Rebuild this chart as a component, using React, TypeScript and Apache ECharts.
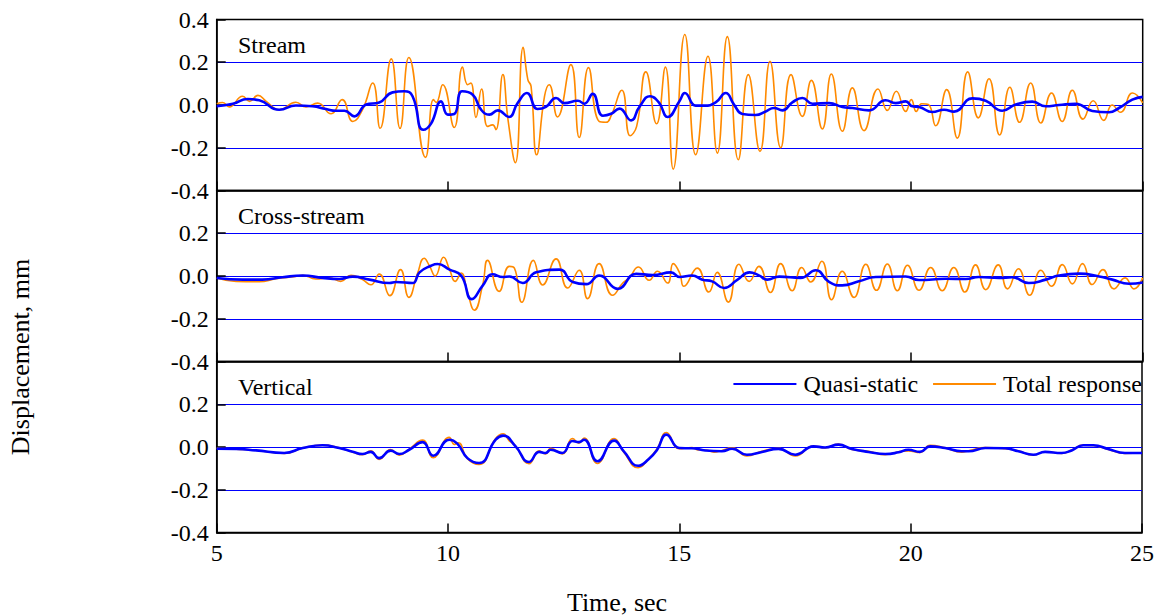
import React, { useEffect, useRef } from "react";
import * as echarts from "echarts";

// ---- Data (time in s, displacement in mm) ----
const xTicks = [5, 10, 15, 20, 25];
const yTicks = [-0.4, -0.2, 0.0, 0.2, 0.4];
const panelTitles = ["Stream", "Cross-stream", "Vertical"];
const legendNames = ["Quasi-static", "Total response"];

const streamTotal: [number, number][] = [
  [5.0, 0.006], [5.13, 0.012], [5.27, -0.009], [5.56, 0.041], [5.71, 0.017], [5.89, 0.045], [6.07, 0.017],
  [6.35, -0.022], [6.71, 0.013], [6.93, -0.009], [7.18, 0.009], [7.47, -0.041], [7.71, 0.025], [7.94, -0.077],
  [8.15, -0.022], [8.37, 0.103], [8.53, -0.109], [8.77, 0.216], [8.96, -0.109], [9.15, 0.222], [9.51, -0.245],
  [9.68, 0.025], [9.74, 0.012], [9.88, 0.095], [10.13, -0.105], [10.31, 0.178], [10.42, 0.095], [10.49, 0.103],
  [10.6, -0.058], [10.72, 0.075], [10.85, -0.1], [10.96, -0.093], [11.03, -0.115], [11.18, 0.142], [11.29, -0.066],
  [11.45, -0.27], [11.62, 0.27], [11.72, 0.119], [11.79, 0.087], [11.91, -0.233], [12.08, 0.04], [12.18, 0.095],
  [12.36, -0.056], [12.65, 0.189], [12.83, -0.152], [13.03, 0.175], [13.26, -0.077], [13.41, -0.081],
  [13.52, -0.05], [13.75, 0.069], [13.93, -0.144], [14.07, -0.1], [14.27, 0.155], [14.5, -0.088], [14.69, 0.177],
  [14.86, -0.3], [15.11, 0.33], [15.345, -0.233], [15.611, 0.228], [15.813, -0.225], [16.029, 0.32],
  [16.266, -0.256], [16.482, 0.142], [16.734, -0.217], [16.95, 0.205], [17.181, -0.2], [17.404, 0.142],
  [17.649, -0.053], [17.843, 0.115], [18.081, -0.112], [18.275, 0.145], [18.513, -0.123], [18.729, 0.08],
  [18.981, -0.12], [19.283, 0.075], [19.485, -0.025], [19.679, 0.064], [19.881, -0.03], [20.003, 0.025],
  [20.11, -0.03], [20.226, 0.006], [20.37, 0.002], [20.528, -0.097], [20.766, 0.072], [20.996, -0.155],
  [21.22, 0.155], [21.45, -0.06], [21.68, 0.123], [21.91, -0.14], [22.13, 0.083], [22.34, -0.081], [22.58, 0.103],
  [22.8, -0.084], [23.03, 0.056], [23.26, -0.077], [23.48, 0.069], [23.71, -0.066], [23.93, 0.02], [24.16, -0.072],
  [24.34, 0.0], [24.52, -0.034], [24.78, 0.056], [25.0, 0.01],
];

const streamQuasi: [number, number][] = [
  [5.0, -0.006], [5.35, 0.006], [5.67, 0.028], [5.92, 0.022], [6.35, -0.022], [6.71, -0.002], [7.07, -0.006],
  [7.36, -0.019], [7.58, -0.027], [7.76, -0.027], [7.97, -0.053], [8.23, 0.002], [8.51, 0.012], [8.8, 0.059],
  [9.05, 0.064], [9.23, 0.041], [9.46, -0.116], [9.63, -0.087], [9.845, 0.017], [9.99, -0.045], [10.13, -0.042],
  [10.3, 0.064], [10.53, 0.048], [10.71, -0.022], [10.89, -0.045], [11.07, -0.025], [11.31, -0.056], [11.5, 0.009],
  [11.7, 0.056], [11.93, -0.019], [12.11, -0.009], [12.33, 0.033], [12.51, 0.009], [12.8, 0.02], [12.94, 0.006],
  [13.12, 0.052], [13.34, -0.05], [13.52, -0.041], [13.7, -0.017], [13.95, -0.072], [14.13, -0.009],
  [14.36, 0.041], [14.55, 0.012], [14.74, -0.056], [15.0, 0.02], [15.11, 0.056], [15.345, -0.003],
  [15.525, -0.003], [15.777, 0.012], [15.993, 0.056], [16.173, 0.002], [16.353, -0.042], [16.641, -0.047],
  [16.857, -0.03], [17.037, -0.014], [17.217, -0.025], [17.433, 0.012], [17.649, 0.033], [17.865, 0.006],
  [18.225, 0.009], [18.513, -0.009], [18.729, -0.014], [19.089, -0.025], [19.449, 0.022], [19.665, 0.009],
  [19.881, 0.017], [20.025, -0.006], [20.169, -0.009], [20.457, -0.033], [20.709, -0.022], [20.925, -0.031],
  [21.321, 0.031], [21.609, 0.02], [21.968, -0.027], [22.256, 0.002], [22.616, 0.016], [22.904, -0.006],
  [23.192, 0.0], [23.552, 0.006], [23.912, -0.028], [24.272, -0.034], [24.488, -0.014], [24.776, 0.025],
  [25.0, 0.038],
];

const crossTotal: [number, number][] = [
  [5.0, -0.009], [5.42, -0.025], [5.92, -0.027], [6.28, -0.013], [6.71, -0.002], [6.86, 0.003], [7.14, -0.014],
  [7.43, -0.009], [7.68, -0.025], [7.9, 0.003], [8.15, -0.017], [8.33, -0.041], [8.51, 0.009], [8.74, -0.092],
  [8.97, 0.03], [9.15, -0.1], [9.34, 0.014], [9.48, 0.083], [9.59, 0.05], [9.72, 0.0], [9.9, 0.088], [10.03, 0.03],
  [10.15, -0.025], [10.28, 0.014], [10.42, -0.08], [10.565, -0.16], [10.745, -0.041], [10.85, 0.073],
  [11.1, -0.072], [11.32, 0.045], [11.43, 0.037], [11.59, -0.123], [11.84, 0.073], [12.04, -0.042], [12.33, 0.08],
  [12.58, -0.056], [12.83, 0.027], [13.01, -0.106], [13.26, 0.058], [13.55, -0.09], [13.77, -0.033],
  [13.91, -0.009], [14.11, 0.042], [14.34, -0.02], [14.52, 0.022], [14.74, -0.033], [14.86, 0.058], [15.0, 0.014],
  [15.09, -0.048], [15.38, 0.037], [15.63, -0.075], [15.81, 0.017], [16.05, -0.122], [16.28, 0.055],
  [16.5, -0.025], [16.71, 0.045], [16.96, -0.077], [17.18, 0.058], [17.43, -0.069], [17.635, 0.04],
  [17.83, -0.028], [18.07, 0.069], [18.28, -0.111], [18.51, 0.022], [18.765, -0.1], [19.02, 0.055],
  [19.25, -0.067], [19.485, 0.056], [19.7, -0.069], [19.92, 0.05], [20.17, -0.067], [20.42, 0.04],
  [20.67, -0.069], [20.92, 0.04], [21.16, -0.075], [21.39, 0.052], [21.61, -0.064], [21.88, 0.052],
  [22.08, -0.06], [22.315, 0.034], [22.56, -0.09], [22.8, 0.027], [23.03, -0.048], [23.265, 0.053],
  [23.48, -0.037], [23.7, 0.058], [23.91, -0.04], [24.14, 0.03], [24.38, -0.06], [24.62, -0.009],
  [24.81, -0.06], [25.0, -0.009],
];

const crossQuasi: [number, number][] = [
  [5.0, -0.009], [5.56, -0.017], [5.99, -0.017], [6.42, -0.006], [6.86, 0.002], [7.29, -0.009], [7.65, -0.014],
  [7.94, -0.003], [8.3, -0.017], [8.73, -0.033], [8.87, -0.028], [9.23, -0.033], [9.38, 0.017], [9.63, 0.048],
  [9.77, 0.056], [10.03, 0.03], [10.28, 0.002], [10.51, -0.108], [10.745, -0.045], [10.96, 0.008],
  [11.18, -0.005], [11.32, -0.002], [11.61, -0.033], [11.9, 0.017], [12.4, 0.03], [12.69, -0.028],
  [12.98, -0.038], [13.26, 0.002], [13.66, -0.06], [14.06, 0.01], [14.42, 0.005], [14.81, 0.017], [15.0, -0.005],
  [15.27, 0.002], [15.49, -0.017], [15.7, -0.025], [15.96, -0.056], [16.25, -0.017], [16.51, 0.017],
  [16.71, 0.003], [16.89, -0.017], [17.15, -0.003], [17.61, -0.009], [17.94, 0.027], [18.225, -0.028],
  [18.51, -0.044], [18.87, -0.025], [19.23, -0.005], [19.88, -0.002], [20.17, -0.019], [20.745, -0.013],
  [21.18, -0.014], [21.46, -0.005], [21.9, -0.009], [22.18, -0.006], [22.54, -0.033], [22.905, -0.017],
  [23.19, 0.002], [23.625, 0.011], [24.06, -0.002], [24.345, -0.017], [24.705, -0.036], [25.0, -0.03],
];

const vertTotal: [number, number][] = [
  [5.0, -0.006], [5.42, -0.01], [5.85, -0.015], [6.46, -0.03], [6.86, -0.004], [7.29, 0.009], [7.65, -0.004],
  [7.94, -0.024], [8.15, -0.036], [8.33, -0.018], [8.51, -0.058], [8.76, -0.012], [8.945, -0.038], [9.16, -0.01],
  [9.45, 0.032], [9.68, -0.05], [10.025, 0.045], [10.14, 0.012], [10.22, 0.02], [10.42, -0.055], [10.67, -0.082],
  [11.03, 0.04], [11.19, 0.062], [11.32, 0.03], [11.46, 0.005], [11.75, -0.078], [11.97, -0.018],
  [12.11, -0.032], [12.22, -0.006], [12.47, -0.032], [12.69, 0.04], [12.83, 0.018], [12.94, 0.042],
  [13.23, -0.077], [13.59, 0.04], [13.8, -0.025], [14.11, -0.097], [14.34, -0.055], [14.52, -0.008],
  [14.72, 0.068], [15.0, -0.008], [15.27, -0.002], [15.4, -0.014], [15.56, -0.014], [15.75, -0.024],
  [15.92, -0.016], [16.14, -0.004], [16.46, -0.042], [16.785, -0.02], [17.145, -0.006], [17.505, -0.042],
  [17.9, 0.005], [18.15, -0.004], [18.44, 0.014], [18.73, -0.012], [19.09, -0.02], [19.45, -0.036],
  [19.74, -0.022], [19.95, -0.018], [20.2, -0.026], [20.42, 0.008], [20.745, -0.004], [21.105, -0.024],
  [21.25, -0.018], [21.61, -0.003], [22.04, -0.008], [22.33, -0.018], [22.65, -0.038], [22.905, -0.022],
  [23.265, -0.03], [23.48, -0.014], [23.73, 0.009], [23.95, 0.007], [24.27, -0.011], [24.63, -0.03],
  [25.0, -0.027],
];

const vertQuasi: [number, number][] = [
  [5.0, -0.008], [5.42, -0.009], [5.85, -0.016], [6.46, -0.028], [6.86, -0.005], [7.29, 0.008], [7.65, -0.005],
  [7.94, -0.022], [8.15, -0.033], [8.33, -0.023], [8.51, -0.052], [8.76, -0.017], [8.945, -0.033], [9.16, -0.013],
  [9.45, 0.023], [9.68, -0.041], [10.025, 0.034], [10.2, 0.016], [10.42, -0.052], [10.67, -0.075], [11.03, 0.034],
  [11.19, 0.053], [11.46, 0.003], [11.75, -0.07], [11.97, -0.023], [12.11, -0.028], [12.22, -0.013],
  [12.47, -0.028], [12.69, 0.028], [12.83, 0.023], [12.94, 0.034], [13.23, -0.067], [13.59, 0.03], [13.8, -0.02],
  [14.11, -0.088], [14.34, -0.056], [14.52, -0.013], [14.72, 0.058], [15.0, -0.005], [15.27, -0.006],
  [15.56, -0.016], [15.92, -0.02], [16.14, -0.008], [16.46, -0.036], [16.785, -0.023], [17.145, -0.009],
  [17.505, -0.036], [17.9, 0.003], [18.15, -0.002], [18.44, 0.011], [18.73, -0.009], [19.09, -0.023],
  [19.45, -0.033], [19.74, -0.025], [19.95, -0.013], [20.2, -0.023], [20.42, 0.003], [20.745, -0.005],
  [21.105, -0.02], [21.25, -0.02], [21.61, -0.005], [22.04, -0.006], [22.33, -0.02], [22.65, -0.036],
  [22.905, -0.023], [23.265, -0.028], [23.48, -0.016], [23.73, 0.008], [23.95, 0.008], [24.27, -0.009],
  [24.63, -0.028], [25.0, -0.028],
];

const totals = [streamTotal, crossTotal, vertTotal];
const quasis = [streamQuasi, crossQuasi, vertQuasi];

const FONT = "'Liberation Serif', 'Times New Roman', serif";
const BLUE = "#0000ff";
const ORANGE = "#ff8a00";

export default function App() {
  const ref = useRef<HTMLDivElement>(null);
  useEffect(() => {
    if (!ref.current) return;
    const chart = echarts.init(ref.current, undefined, { renderer: "svg" });
    const gridTops = [19.5, 190.5, 361.5];
    const gridH = 171;
    const grids = gridTops.map((t) => ({
      left: 216.7,
      top: t,
      width: 926,
      height: gridH,
      show: true,
      borderColor: "#000",
      borderWidth: 1.5,
      backgroundColor: "transparent",
    }));
    const xAxes = gridTops.map((_, i) => ({
      type: "value",
      gridIndex: i,
      position: "bottom",
      min: xTicks[0],
      max: xTicks[xTicks.length - 1],
      interval: 5,
      axisLine: { show: true, onZero: false, lineStyle: { color: "#000", width: 1.5 } },
      axisTick: { show: true, inside: true, length: 9, lineStyle: { color: "#000", width: 1.5 } },
      axisLabel: {
        show: i === 2,
        color: "#000",
        fontFamily: FONT,
        fontSize: 24,
        margin: 8,
      },
      splitLine: { show: false },
    }));
    const yAxes = gridTops.map((_, i) => ({
      type: "value",
      gridIndex: i,
      min: yTicks[0],
      max: yTicks[yTicks.length - 1],
      interval: 0.2,
      axisLine: { show: true, onZero: false, lineStyle: { color: "#000", width: 1.5 } },
      axisTick: { show: true, inside: true, length: 9, lineStyle: { color: "#000", width: 1.5 } },
      axisLabel: {
        color: "#000",
        fontFamily: FONT,
        fontSize: 24,
        margin: 8,
        showMaxLabel: i === 0,
        formatter: (v: number) => v.toFixed(1),
      },
      splitLine: {
        show: true,
        showMinLine: false,
        showMaxLine: false,
        lineStyle: { color: BLUE, width: 1 },
      },
    }));
    const series: any[] = [];
    for (let i = 0; i < 3; i++) {
      series.push({
        name: legendNames[1],
        type: "line",
        xAxisIndex: i,
        yAxisIndex: i,
        data: totals[i],
        symbol: "none",
        smooth: 0.5,
        lineStyle: { color: ORANGE, width: 1.6 },
        itemStyle: { color: ORANGE },
        z: 2,
      });
      series.push({
        name: legendNames[0],
        type: "line",
        xAxisIndex: i,
        yAxisIndex: i,
        data: quasis[i],
        symbol: "none",
        smooth: 0.5,
        lineStyle: { color: BLUE, width: 2.6 },
        itemStyle: { color: BLUE },
        z: 3,
      });
    }
    const titleY = [45, 216, 387];
    const graphics: any[] = panelTitles.map((t, i) => ({
      type: "text",
      left: 238,
      y: titleY[i],
      style: {
        text: t,
        font: `24px ${FONT}`,
        fill: "#000",
        verticalAlign: "middle",
      },
    }));
    graphics.push({
      type: "text",
      x: 617,
      y: 602,
      style: {
        text: "Time, sec",
        font: `26px ${FONT}`,
        fill: "#000",
        align: "center",
        verticalAlign: "middle",
      },
    });
    graphics.push({
      type: "text",
      x: 20,
      y: 357,
      rotation: Math.PI / 2,
      style: {
        text: "Displacement, mm",
        font: `26px ${FONT}`,
        fill: "#000",
        align: "center",
        verticalAlign: "middle",
      },
    });
    chart.setOption({
      animation: false,
      backgroundColor: "#fff",
      grid: grids,
      xAxis: xAxes,
      yAxis: yAxes,
      legend: {
        data: legendNames,
        right: 15,
        top: 372,
        padding: 0,
        itemWidth: 63,
        itemHeight: 14,
        itemGap: 14,
        itemStyle: { color: "transparent", borderColor: "transparent", borderWidth: 0, opacity: 0 },
        textStyle: { fontFamily: FONT, fontSize: 24, color: "#000", padding: [0, 0, 0, 2] },
        selectedMode: false,
      },
      graphic: graphics,
      series,
    });
    return () => chart.dispose();
  }, []);
  return (
    <div
      ref={ref}
      style={{ position: "fixed", left: 0, top: 0, width: 1157, height: 616 }}
    />
  );
}
